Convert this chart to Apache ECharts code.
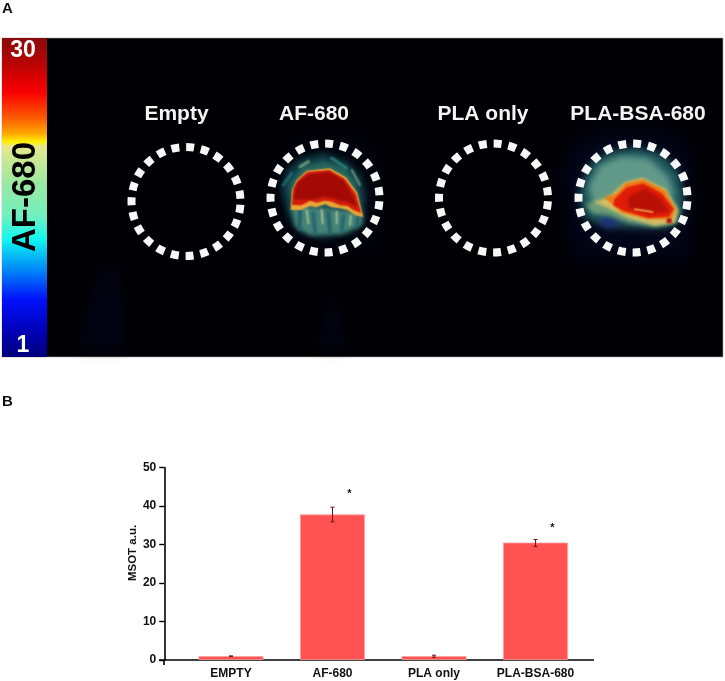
<!DOCTYPE html>
<html><head><meta charset="utf-8">
<style>html,body{margin:0;padding:0;background:#fff}#c{width:725px;height:681px}</style>
<script src="https://cdn.jsdelivr.net/npm/echarts@6/dist/echarts.min.js"></script>
</head><body><div id="c"></div>
<script>
const categories = ['EMPTY', 'AF-680', 'PLA only', 'PLA-BSA-680'];
const values = [1.0, 37.8, 1.0, 30.5];
const errLow = [0.95, 35.9, 0.7, 29.5];
const errHigh = [1.05, 39.7, 1.25, 31.3];
const starValues = [null, 43, null, 34.4];
const yTicks = [0, 10, 20, 30, 40, 50];
const wellLabels = ['Empty', 'AF-680', 'PLA only', 'PLA-BSA-680'];
const scaleLabels = ['30', 'AF-680', '1'];
const yAxisTitle = 'MSOT a.u.';

const FONT = '"Liberation Sans", Arial, sans-serif';
const chart = echarts.init(document.getElementById('c'), null, {renderer: 'canvas', devicePixelRatio: 1});
const OFF = 3000;

// soft-edged shape: the polygon itself sits off-canvas, only its blurred shadow lands on the picture
function soft(x0, y0, pts, color, blur) {
  return {type: 'polygon',
    shape: {points: pts.map(p => [x0 + p[0] / 3 - OFF, y0 + p[1] / 3])},
    style: {fill: '#000', shadowBlur: blur == null ? 3 : blur, shadowColor: color, shadowOffsetX: OFF}};
}
function streak(x0, y0, p, color, w, blur) {
  return {type: 'line', shape: {x1: x0 + p[0] / 3 - OFF, y1: y0 + p[1] / 3, x2: x0 + p[2] / 3 - OFF, y2: y0 + p[3] / 3},
    style: {stroke: '#000', lineWidth: w || 2, lineCap: 'round', shadowBlur: blur == null ? 2 : blur, shadowColor: color, shadowOffsetX: OFF}};
}
function well(cx, cy) {
  const r = 54.5, n = 23, dash = 8, period = 2 * Math.PI * r / n;
  return {type: 'circle', shape: {cx, cy, r},
    style: {fill: 'none', stroke: '#fff', lineWidth: 8,
      lineDash: [dash, period - dash], lineDashOffset: -(period - dash) / 2, opacity: 0.97}};
}
function label(text, x, y, size, color, rot) {
  return {type: 'text', x, y, rotation: rot || 0,
    style: {text, fill: color, font: 'bold ' + size + 'px ' + FONT, align: 'center', verticalAlign: 'middle'}};
}

const AX = 260, AY = 130, BX = 565, BY = 130;
const graphic = [
  {type: 'rect', shape: {x: 2, y: 38, width: 721, height: 319},
    style: {fill: '#000004', stroke: '#a8a8a8', lineWidth: 0.6}},
  soft(0, 0, [[230, 1050], [300, 800], [360, 800], [370, 1050]], 'rgba(6,9,36,0.45)', 12),
  soft(0, 0, [[950, 1050], [1000, 850], [1040, 1050]], 'rgba(6,9,36,0.4)', 12),
  soft(0, 0, [[1680, 500], [1760, 390], [2030, 390], [2080, 500], [2070, 780], [1720, 780]], 'rgba(6,12,52,0.45)', 20),
  soft(0, 0, [[830, 500], [880, 400], [1110, 400], [1160, 500], [1140, 760], [850, 760]], 'rgba(6,12,45,0.2)', 14),
  {type: 'rect', shape: {x: 2, y: 38, width: 45, height: 319},
    style: {fill: {type: 'linear', x: 0, y: 0, x2: 0, y2: 1, colorStops: [
      {offset: 0, color: '#8a0a0a'}, {offset: 0.08, color: '#b80404'}, {offset: 0.17, color: '#fb0000'},
      {offset: 0.25, color: '#fb5a00'}, {offset: 0.30, color: '#fda800'}, {offset: 0.325, color: '#fff000'},
      {offset: 0.34, color: '#e6e88a'}, {offset: 0.45, color: '#9ee8a0'}, {offset: 0.56, color: '#70f0c0'},
      {offset: 0.63, color: '#10f8f0'}, {offset: 0.72, color: '#0090f8'}, {offset: 0.82, color: '#0010fa'},
      {offset: 0.93, color: '#0000b0'}, {offset: 1, color: '#00007a'}]}}},
  label(scaleLabels[0], 23, 51, 23, '#fff'),
  label(scaleLabels[1], 26, 197, 33, '#000', Math.PI / 2),
  label(scaleLabels[2], 23, 346, 23, '#fff'),

  // AF-680 well signal
  soft(AX, AY, [[62, 175], [80, 120], [120, 85], [190, 68], [260, 92], [302, 135], [318, 190], [312, 280], [270, 312], [180, 326], [115, 305], [85, 260]], 'rgba(14,60,70,0.95)', 6),
  soft(AX, AY, [[85, 165], [125, 110], [190, 92], [255, 112], [290, 160], [300, 230], [100, 230]], 'rgba(42,108,95,0.9)', 5),
  streak(AX, AY, [95, 130, 70, 165], '#1f6670', 3), streak(AX, AY, [145, 95, 120, 110], '#6a9e80', 3),
  streak(AX, AY, [215, 85, 260, 115], '#2a7a7a', 3), streak(AX, AY, [275, 120, 300, 165], '#6a9e80', 2),
  soft(AX, AY, [[92, 225], [305, 245], [307, 285], [245, 312], [150, 316], [105, 290]], 'rgba(72,135,122,0.95)', 4),
  streak(AX, AY, [120, 240, 118, 295], '#24626a', 4), streak(AX, AY, [160, 250, 165, 308], '#286870', 4),
  streak(AX, AY, [205, 250, 210, 308], '#24626a', 4), streak(AX, AY, [250, 258, 245, 300], '#286870', 4),
  streak(AX, AY, [293, 262, 290, 292], '#24626a', 3),
  streak(AX, AY, [140, 240, 145, 280], '#9cc096', 2), streak(AX, AY, [185, 240, 188, 280], '#a4c498', 2),
  streak(AX, AY, [230, 245, 230, 280], '#9cc096', 2), streak(AX, AY, [272, 258, 270, 285], '#9cc096', 2),
  soft(AX, AY, [[92, 240], [96, 180], [110, 150], [140, 122], [210, 115], [258, 142], [292, 188], [310, 262], [285, 255], [262, 240], [240, 235], [215, 232], [195, 222], [170, 232], [150, 228], [125, 240]], '#e8a636', 1.5),
  soft(AX, AY, [[96, 225], [100, 175], [115, 150], [142, 126], [208, 120], [254, 146], [288, 192], [304, 250], [280, 240], [262, 228], [240, 226], [215, 215], [195, 212], [170, 218], [150, 212], [125, 226]], '#d41c0c', 1.5),
  soft(AX, AY, [[100, 208], [110, 160], [148, 132], [208, 126], [252, 152], [280, 198], [292, 232], [262, 216], [240, 212], [215, 204], [190, 200], [165, 208], [135, 210]], '#a30a05', 2),

  // PLA-BSA-680 well signal
  soft(BX, BY, [[42, 190], [72, 105], [130, 66], [210, 52], [292, 72], [342, 128], [358, 200], [348, 262], [312, 292], [200, 292], [115, 285], [58, 262]], 'rgba(36,100,104,0.92)', 8),
  soft(BX, BY, [[70, 170], [105, 105], [170, 78], [250, 85], [310, 140], [330, 200], [200, 180], [90, 240]], 'rgba(104,160,140,0.9)', 6),
  soft(BX, BY, [[100, 268], [135, 260], [170, 285], [120, 295]], 'rgba(30,45,130,0.85)', 5),
  soft(BX, BY, [[60, 225], [105, 205], [180, 160], [300, 170], [345, 240], [335, 280], [270, 292], [190, 278], [130, 255], [85, 250]], 'rgba(112,160,118,0.95)', 4),
  soft(BX, BY, [[85, 215], [130, 203], [178, 158], [232, 143], [302, 178], [337, 240], [330, 278], [270, 287], [190, 265], [130, 235]], '#d2bc62', 3),
  soft(BX, BY, [[118, 202], [152, 192], [182, 160], [235, 148], [300, 182], [332, 238], [320, 268], [250, 268], [170, 248], [140, 222]], '#f07a14', 2),
  soft(BX, BY, [[148, 208], [185, 172], [235, 160], [290, 190], [326, 236], [312, 260], [250, 264], [175, 242], [145, 226]], '#e01c08', 2),
  soft(BX, BY, [[190, 200], [240, 175], [285, 205], [312, 245], [250, 252], [190, 232]], '#b81006', 3),
  streak(BX, BY, [210, 238, 262, 246], '#f09040', 2, 1.5),
  soft(BX, BY, [[305, 265], [320, 265], [320, 280], [305, 280]], '#b01010', 2),

  well(186, 201.5), well(325, 198), well(493.5, 198), well(633, 198),
  label(wellLabels[0], 176.5, 114, 21, '#f4f4f4'),
  label(wellLabels[1], 314, 114, 21, '#f4f4f4'),
  label(wellLabels[2], 483, 114, 21, '#f4f4f4'),
  label(wellLabels[3], 638, 114, 21, '#f4f4f4'),

  {type: 'text', x: 2, y: 9, style: {text: 'A', fill: '#111', font: 'bold 15px ' + FONT, verticalAlign: 'middle'}},
  {type: 'text', x: 2, y: 402, style: {text: 'B', fill: '#111', font: 'bold 15px ' + FONT, verticalAlign: 'middle'}},
  label(yAxisTitle, 133, 553, 11.5, '#111', Math.PI / 2),

  // axis line extends past the outer category slots, as in the original
  {type: 'line', shape: {x1: 159, y1: 660, x2: 594, y2: 660}, style: {stroke: '#000', lineWidth: 1.6}},
  {type: 'line', shape: {x1: 164, y1: 660, x2: 164, y2: 665}, style: {stroke: '#000', lineWidth: 1.6}}
];

const band = 101.5;
chart.setOption({
  animation: false,
  backgroundColor: '#fff',
  textStyle: {fontFamily: FONT},
  graphic: graphic.map(g => Object.assign({silent: true, z: 1}, g)),
  grid: {left: 180.25, width: band * 4, top: 467.5, height: 192.5, containLabel: false},
  xAxis: {type: 'category', data: categories, axisLine: {show: false}, axisTick: {show: false},
    axisLabel: {color: '#111', fontWeight: 'bold', fontSize: 12, margin: 8, interval: 0}},
  yAxis: {type: 'value', min: yTicks[0], max: yTicks[yTicks.length - 1], interval: 10, offset: 16,
    axisLine: {show: true, lineStyle: {color: '#000', width: 1.6}},
    axisTick: {show: true, length: 5, lineStyle: {color: '#000', width: 1.4}},
    axisLabel: {color: '#111', fontWeight: 'bold', fontSize: 12, margin: 8},
    splitLine: {show: false}},
  series: [
    {type: 'bar', data: values, barWidth: 65, z: 3,
      itemStyle: {color: '#ff5252', borderColor: '#ffa0a0', borderWidth: 0.8}},
    {type: 'custom', z: 4, data: categories.map((c, i) => [i, errLow[i], errHigh[i]]),
      renderItem(params, api) {
        const lo = api.coord([api.value(0), api.value(1)]);
        const hi = api.coord([api.value(0), api.value(2)]);
        const cap = 2;
        const st = {stroke: '#6e1212', lineWidth: 1, fill: 'none'};
        return {type: 'group', children: [
          {type: 'line', shape: {x1: lo[0], y1: lo[1], x2: hi[0], y2: hi[1]}, style: st},
          {type: 'line', shape: {x1: lo[0] - cap, y1: lo[1], x2: lo[0] + cap, y2: lo[1]}, style: st},
          {type: 'line', shape: {x1: hi[0] - cap, y1: hi[1], x2: hi[0] + cap, y2: hi[1]}, style: st}
        ]};
      }},
    {type: 'custom', z: 4, data: starValues.map((v, i) => [i, v]),
      renderItem(params, api) {
        if (isNaN(api.value(1))) return null;
        const p = api.coord([api.value(0), api.value(1)]);
        return {type: 'text', x: p[0] + 17, y: p[1],
          style: {text: '*', fill: '#111', font: 'bold 11px ' + FONT, align: 'center', verticalAlign: 'middle'}};
      }}
  ]
});
</script></body></html>
